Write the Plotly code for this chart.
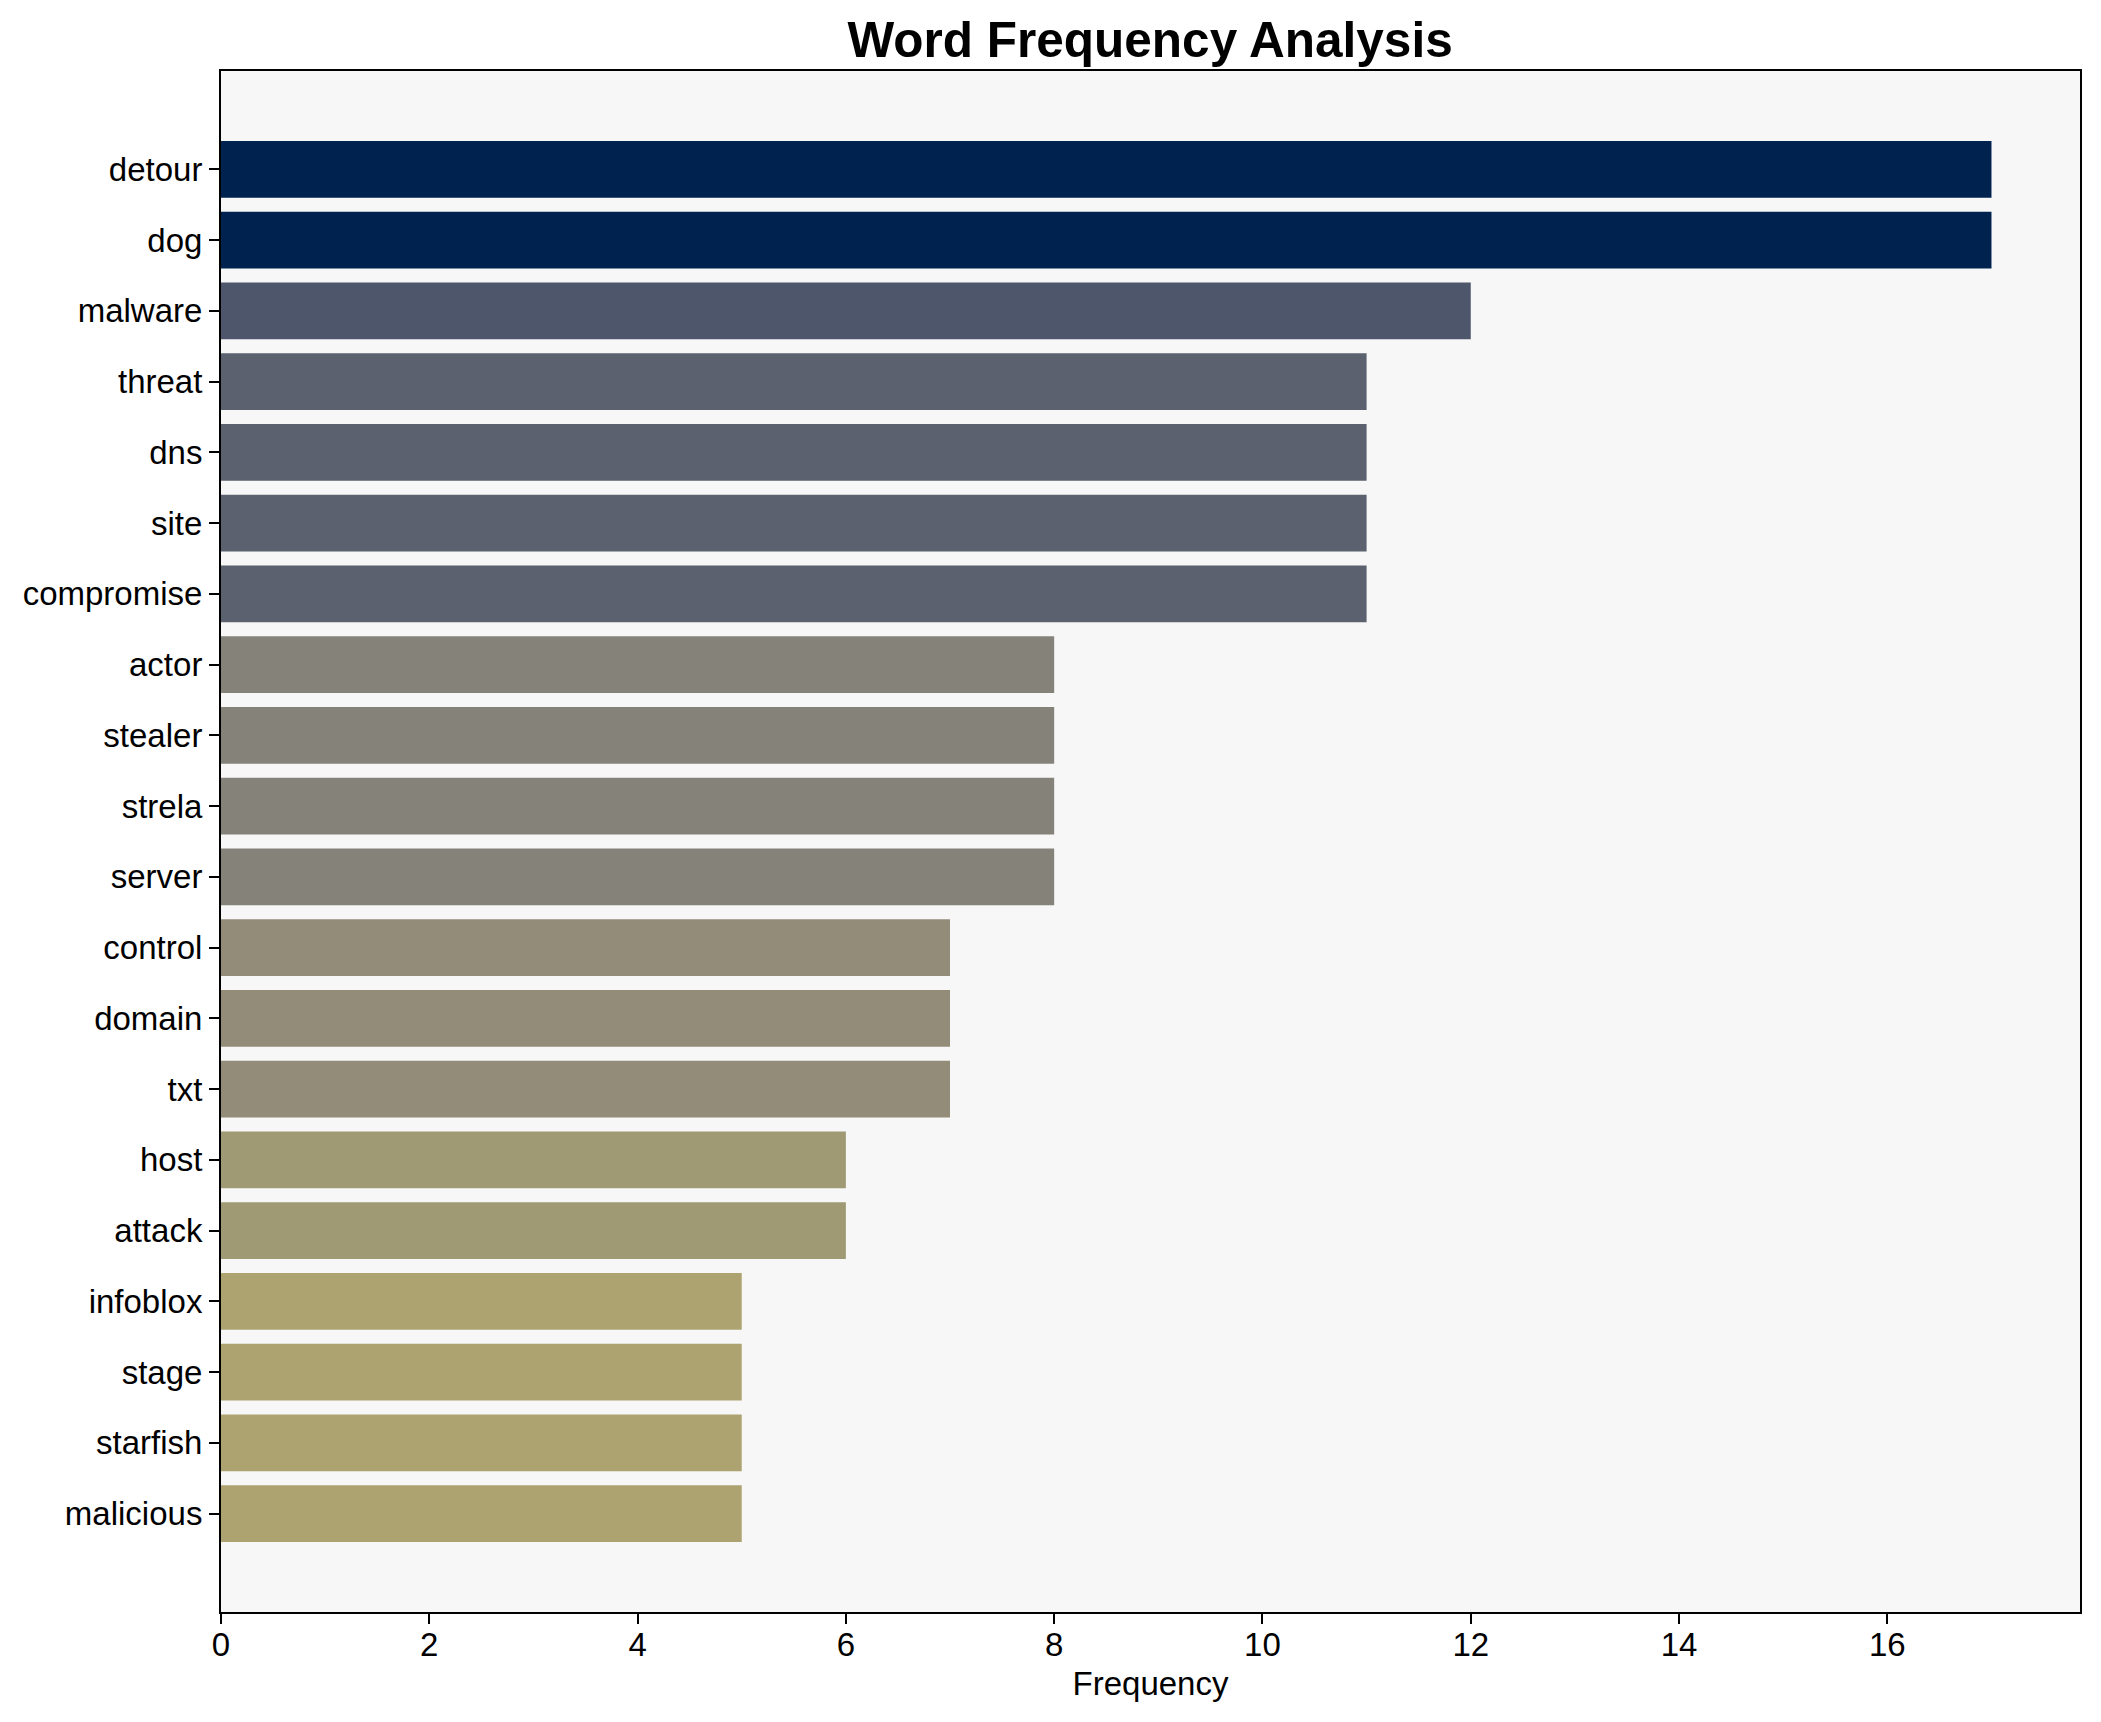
import plotly.graph_objects as go

words = ["detour", "dog", "malware", "threat", "dns", "site", "compromise",
         "actor", "stealer", "strela", "server", "control", "domain", "txt",
         "host", "attack", "infoblox", "stage", "starfish", "malicious"]
counts = [17, 17, 12, 11, 11, 11, 11, 8, 8, 8, 8, 7, 7, 7, 6, 6, 5, 5, 5, 5]

value_colors = {17: "#00224e", 12: "#4d566b", 11: "#5b616e", 8: "#85827a",
                7: "#938c78", 6: "#a09a74", 5: "#ada370"}
bar_colors = [value_colors[c] for c in counts]

FONT = "Liberation Sans, Arial, sans-serif"

fig = go.Figure(go.Bar(
    x=counts, y=words, orientation="h",
    marker=dict(color=bar_colors, line=dict(width=0)),
    width=0.8,
))

n = len(words)
fig.update_layout(
    width=2101, height=1722,
    margin=dict(l=213, r=29, t=63, b=118),
    paper_bgcolor="white",
    plot_bgcolor="#f7f7f7",
    font=dict(family=FONT, size=33, color="black"),
    title=dict(text="<b>Word Frequency Analysis</b>", x=0.5436, xanchor="center",
               y=1 - 32 / 1722, yanchor="middle",
               font=dict(family=FONT, size=49.5, color="black")),
    showlegend=False,
)
fig.update_xaxes(
    range=[0, 17.85], dtick=2, tick0=0,
    showgrid=False, zeroline=False,
    ticks="outside", ticklen=10, tickwidth=2, tickcolor="black",
    showline=True, linecolor="black", linewidth=2, mirror=True,
    ticklabelstandoff=-8,
    title=dict(text="Frequency", font=dict(size=33), standoff=10),
    tickfont=dict(size=33),
)
fig.update_yaxes(
    range=[n - 1 + 1.39, -1.39],
    showgrid=False, zeroline=False,
    ticks="outside", ticklen=10, tickwidth=2, tickcolor="black",
    showline=True, linecolor="black", linewidth=2, mirror=True,
    tickfont=dict(size=33),
)

fig.write_html("out.html")
